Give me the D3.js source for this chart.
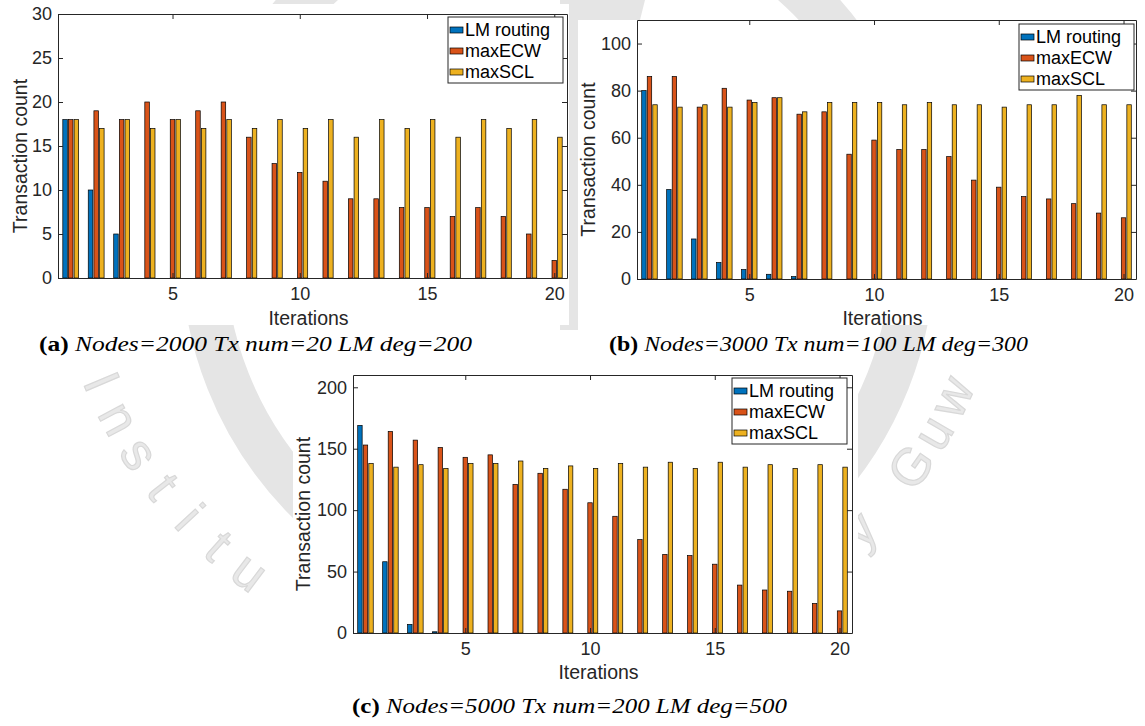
<!DOCTYPE html>
<html>
<head>
<meta charset="utf-8">
<script src="https://cdn.jsdelivr.net/npm/d3@7"></script>
<style>
  html, body { margin: 0; padding: 0; background: #ffffff; }
  svg { display: block; }
</style>
</head>
<body>
<svg id="chart" width="1145" height="726"></svg>
<script>
// ---------------- DATA ----------------
const iterations = [1,2,3,4,5,6,7,8,9,10,11,12,13,14,15,16,17,18,19,20];
const seriesNames = ["LM routing", "maxECW", "maxSCL"];
const xTickValues = [5, 10, 15, 20];

// (a) Nodes=2000 Tx num=20 LM deg=200
const aLM   = [18,10,5,0,0,0,0,0,0,0,0,0,0,0,0,0,0,0,0,0];
const aECW  = [18,19,18,20,18,19,20,16,13,12,11,9,9,8,8,7,8,7,5,2];
const aSCL  = [18,17,18,17,18,17,18,17,18,17,18,16,18,17,18,16,18,17,18,16];
const aYTicks = [0,5,10,15,20,25,30];

// (b) Nodes=3000 Tx num=100 LM deg=300
const bLM   = [80,38,17,7,4,2,1,0,0,0,0,0,0,0,0,0,0,0,0,0];
const bECW  = [86,86,73,81,76,77,70,71,53,59,55,55,52,42,39,35,34,32,28,26];
const bSCL  = [74,73,74,73,75,77,71,75,75,75,74,75,74,74,73,74,74,78,74,74];
const bYTicks = [0,20,40,60,80,100];

// (c) Nodes=5000 Tx num=200 LM deg=500
const cLM   = [169,58,7,1,0,0,0,0,0,0,0,0,0,0,0,0,0,0,0,0];
const cECW  = [153,164,157,151,143,145,121,130,117,106,95,76,64,63,56,39,35,34,24,18];
const cSCL  = [138,135,137,134,138,138,140,134,136,134,138,135,139,134,139,135,137,134,137,135];
const cYTicks = [0,50,100,150,200];

const captionLabels = ["(a)", "(b)", "(c)"];
const captionTexts = [
  "Nodes=2000 Tx num=20 LM deg=200",
  "Nodes=3000 Tx num=100 LM deg=300",
  "Nodes=5000 Tx num=200 LM deg=500"
];
// visible fragments of the faint background seal text ("...Institu..." / "...y Guw...")
const watermarkLeft = ["I","n","s","t","i","t","u"];
const watermarkRight = ["y"," ","G","u","w"];

// ---------------- STYLE / LAYOUT ----------------
const colors = ["#0072BD", "#D95319", "#EDB120"];
const axisColor = "#262626";
const fontSans = "'Liberation Sans', Arial, Helvetica, sans-serif";
const fontSerif = "'Liberation Serif', 'Times New Roman', serif";

const panels = [
  { box: [0, 4, 569, 325], left: 58, right: 567, top: 14, bottom: 278, ymax: 30,
    yTicks: aYTicks, data: [aLM, aECW, aSCL], ylabX: 20, xlabY: 318,
    legend: { right: 563, top: 17 },
    caption: { x: 39, w: 433, y: 351 } },
  { box: [578, 20, 1145, 325], left: 637, right: 1136, top: 20, bottom: 279, ymax: 110,
    yTicks: bYTicks, data: [bLM, bECW, bSCL], ylabX: 588, xlabY: 318,
    legend: { right: 1134, top: 24 },
    caption: { x: 609, w: 419, y: 351 } },
  { box: [293, 372, 858, 690], left: 353, right: 852, top: 375, bottom: 633, ymax: 210,
    yTicks: cYTicks, data: [cLM, cECW, cSCL], ylabX: 303, xlabY: 672,
    legend: { right: 847, top: 378 },
    caption: { x: 352, w: 435, y: 713 } }
];

const svg = d3.select("#chart");
svg.append("rect").attr("width", 1145).attr("height", 726).attr("fill", "#ffffff");

// ---------------- WATERMARK (faint) ----------------
const wm = svg.append("g").attr("class", "watermark");
const wmGrey = "#e5e5e5";
// ring of the seal
wm.append("circle").attr("cx", 558).attr("cy", 250).attr("r", 355)
  .attr("fill", "none").attr("stroke", wmGrey).attr("stroke-width", 44);
// inner emblem area showing in the gap between the upper figures
wm.append("path")
  .attr("d", "M560,0 L645,0 L640,20 L578,22 L578,330 L560,330 Z")
  .attr("fill", wmGrey);
// seal lettering, one glyph at a time along an arc
const tcx = 530, tcy = 200, tr = 465;
function placeLetters(letters, startDeg, stepDeg) {
  letters.forEach((ch, i) => {
    if (ch === " ") return;
    const th = (startDeg - i * stepDeg) * Math.PI / 180;
    const px = tcx + tr * Math.cos(th), py = tcy + tr * Math.sin(th);
    const rot = Math.atan2(-Math.cos(th), Math.sin(th)) * 180 / Math.PI;
    wm.append("text")
      .attr("transform", `translate(${px},${py}) rotate(${rot})`)
      .attr("text-anchor", "middle").attr("dominant-baseline", "central")
      .attr("font-family", fontSans).attr("font-size", 52)
      .attr("fill", "#e8e8e8").attr("stroke", "#d8d8d8").attr("stroke-width", 1.2)
      .text(ch);
  });
}
placeLetters(watermarkLeft, 157, 5.0);
placeLetters(watermarkRight, 45, 5.0);

// ---------------- PANELS ----------------
const groupWidth = 3 / 4.5;              // MATLAB grouped-bar width
const barStep = groupWidth / 3;
const barW = barStep * 0.8;

panels.forEach((p, pi) => {
  // white figure background
  svg.append("rect").attr("x", p.box[0]).attr("y", p.box[1])
    .attr("width", p.box[2] - p.box[0]).attr("height", p.box[3] - p.box[1])
    .attr("fill", "#ffffff");

  const g = svg.append("g");
  const x = d3.scaleLinear().domain([0.5, 20.5]).range([p.left, p.right]);
  const y = d3.scaleLinear().domain([0, p.ymax]).range([p.bottom, p.top]);

  // bars
  p.data.forEach((vals, si) => {
    const off = (si - 1) * barStep;
    g.append("g").selectAll("rect")
      .data(iterations.map((it, i) => ({ it, v: vals[i] })))
      .join("rect")
      .attr("x", d => x(d.it + off - barW / 2))
      .attr("width", d => x(d.it + off + barW / 2) - x(d.it + off - barW / 2))
      .attr("y", d => y(d.v))
      .attr("height", d => y(0) - y(d.v))
      .attr("fill", colors[si])
      .attr("stroke", "#000000")
      .attr("stroke-width", 0.7);
  });

  // axes
  const styleAxis = sel => {
    sel.selectAll("path.domain").attr("stroke", axisColor).attr("stroke-width", 1);
    sel.selectAll(".tick line").attr("stroke", axisColor).attr("stroke-width", 1);
    sel.selectAll(".tick text").attr("fill", axisColor)
      .attr("font-family", fontSans).attr("font-size", 18);
  };
  g.append("g").attr("transform", `translate(0,${p.bottom})`)
    .call(d3.axisBottom(x).tickValues(xTickValues).tickSizeInner(-5).tickSizeOuter(0).tickPadding(9))
    .call(styleAxis);
  g.append("g").attr("transform", `translate(0,${p.top})`)
    .call(d3.axisTop(x).tickValues(xTickValues).tickSizeInner(-5).tickSizeOuter(0).tickFormat(""))
    .call(styleAxis);
  g.append("g").attr("transform", `translate(${p.left},0)`)
    .call(d3.axisLeft(y).tickValues(p.yTicks).tickSizeInner(-5).tickSizeOuter(0).tickPadding(6))
    .call(styleAxis);
  g.append("g").attr("transform", `translate(${p.right},0)`)
    .call(d3.axisRight(y).tickValues(p.yTicks).tickSizeInner(-5).tickSizeOuter(0).tickFormat(""))
    .call(styleAxis);

  // axis labels
  g.append("text")
    .attr("transform", `translate(${p.ylabX},${(p.top + p.bottom) / 2 + 10}) rotate(-90)`)
    .attr("text-anchor", "middle").attr("dominant-baseline", "central")
    .attr("font-family", fontSans).attr("font-size", 19.5).attr("fill", axisColor)
    .text("Transaction count");
  g.append("text")
    .attr("x", (p.left + p.right) / 2 - 4).attr("y", p.xlabY)
    .attr("text-anchor", "middle").attr("dominant-baseline", "central")
    .attr("font-family", fontSans).attr("font-size", 19.5).attr("fill", axisColor)
    .text("Iterations");

  // legend
  const lgW = 115, lgH = 66;
  const lg = g.append("g").attr("transform", `translate(${p.legend.right - lgW},${p.legend.top})`);
  lg.append("rect").attr("width", lgW).attr("height", lgH)
    .attr("fill", "#ffffff").attr("stroke", axisColor).attr("stroke-width", 1);
  seriesNames.forEach((name, si) => {
    const cy = 13 + si * 21;
    lg.append("rect").attr("x", 2).attr("y", cy - 3).attr("width", 13).attr("height", 6)
      .attr("fill", colors[si]).attr("stroke", "#000000").attr("stroke-width", 0.7);
    lg.append("text").attr("x", 17).attr("y", cy).attr("dominant-baseline", "central")
      .attr("font-family", fontSans).attr("font-size", 18).attr("fill", "#000000")
      .text(name);
  });

  // caption
  const cap = svg.append("text")
    .attr("x", p.caption.x).attr("y", p.caption.y)
    .attr("font-family", fontSerif).attr("font-size", 20.5).attr("fill", "#000000")
    .attr("textLength", p.caption.w).attr("lengthAdjust", "spacingAndGlyphs");
  cap.append("tspan").attr("font-weight", "bold").text(captionLabels[pi]);
  cap.append("tspan").attr("font-style", "italic").text(" " + captionTexts[pi]);
});
</script>
</body>
</html>
